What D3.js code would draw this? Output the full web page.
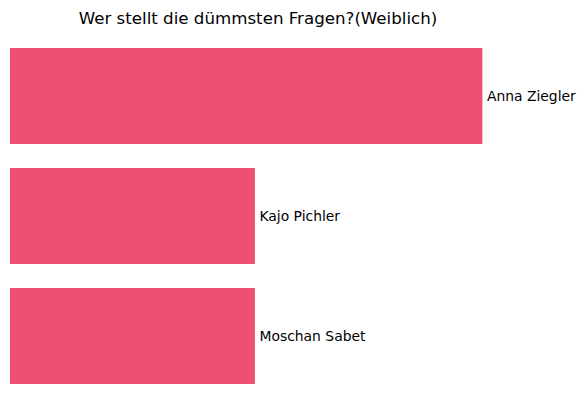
<!DOCTYPE html>
<html><head><meta charset="utf-8">
<script src="https://cdn.jsdelivr.net/npm/d3@7"></script>
<style>body{margin:0;background:#fff}svg{display:block}</style>
</head><body>
<script>
const title = "Wer stellt die dümmsten Fragen?(Weiblich)";
const names = ["Anna Ziegler", "Kajo Pichler", "Moschan Sabet"];
const counts = [27, 14, 14];
const barColor = "#ef4f72";

const W = 585, H = 411;
const svg = d3.select("body").append("svg").attr("width", W).attr("height", H);

const x = d3.scaleLinear().domain([0, d3.max(counts) * 1.05]).range([10, 506]);
const y = d3.scaleBand().domain(names).range([36, 396]).paddingInner(0.2).paddingOuter(0.1);

svg.append("text")
  .attr("x", (x.range()[0] + x.range()[1]) / 2).attr("y", 24)
  .attr("text-anchor", "middle")
  .attr("font-family", "DejaVu Sans").attr("font-size", 16.67)
  .attr("fill", "#000").text(title);

const g = svg.append("g");
g.selectAll("rect").data(names).join("rect")
  .attr("x", x(0)).attr("y", d => y(d))
  .attr("width", (d, i) => x(counts[i]) - x(0))
  .attr("height", y.bandwidth())
  .attr("fill", barColor);

g.selectAll("text.lbl").data(names).join("text")
  .attr("class", "lbl")
  .attr("x", (d, i) => x(counts[i]) + 4.5)
  .attr("y", d => y(d) + y.bandwidth() / 2)
  .attr("dy", "0.35em")
  .attr("font-family", "DejaVu Sans").attr("font-size", 13.9)
  .attr("fill", "#000").text(d => d);
</script>
</body></html>
